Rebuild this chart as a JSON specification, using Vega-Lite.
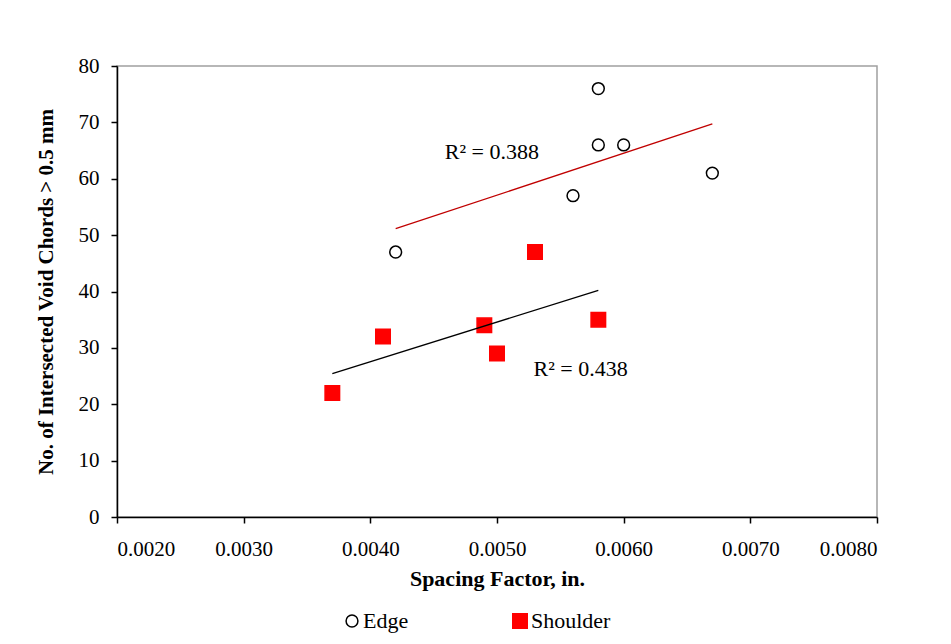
{
  "$schema": "https://vega.github.io/schema/vega-lite/v6.json",
  "width": 760,
  "height": 451,
  "autosize": {"type": "none"},
  "padding": {"left": 117, "top": 66, "right": 74, "bottom": 127},
  "background": "white",
  "datasets": {
    "points": [
      {"series": "Edge", "x": 0.0042, "y": 47},
      {"series": "Edge", "x": 0.0056, "y": 57},
      {"series": "Edge", "x": 0.0058, "y": 76},
      {"series": "Edge", "x": 0.0058, "y": 66},
      {"series": "Edge", "x": 0.0060, "y": 66},
      {"series": "Edge", "x": 0.0067, "y": 61},
      {"series": "Shoulder", "x": 0.0037, "y": 22},
      {"series": "Shoulder", "x": 0.0041, "y": 32},
      {"series": "Shoulder", "x": 0.0049, "y": 34},
      {"series": "Shoulder", "x": 0.0050, "y": 29},
      {"series": "Shoulder", "x": 0.0053, "y": 47},
      {"series": "Shoulder", "x": 0.0058, "y": 35}
    ],
    "labels": [
      {"label": "R² = 0.388", "x": 0.00496, "y": 64.7},
      {"label": "R² = 0.438", "x": 0.00566, "y": 26.2}
    ]
  },
  "config": {
    "font": "Liberation Serif",
    "view": {"stroke": "#a0a0a0", "strokeWidth": 1.5},
    "axis": {
      "grid": false,
      "domainColor": "black",
      "domainWidth": 1.5,
      "tickColor": "black",
      "tickWidth": 1.5,
      "labelFont": "Liberation Serif",
      "labelFontSize": 21,
      "labelColor": "black",
      "titleFont": "Liberation Serif",
      "titleFontSize": 21,
      "titleFontWeight": "bold",
      "titleColor": "black"
    },
    "legend": {
      "labelFont": "Liberation Serif",
      "labelFontSize": 22,
      "labelColor": "black"
    }
  },
  "layer": [
    {
      "data": {"name": "points"},
      "mark": {"type": "point", "filled": true, "strokeWidth": 1.5, "opacity": 1},
      "encoding": {
        "x": {
          "field": "x", "type": "quantitative",
          "scale": {"domain": [0.002, 0.008], "nice": false, "zero": false},
          "axis": {
            "title": "Spacing Factor, in.",
            "titleFontSize": 22,
            "values": [0.002, 0.003, 0.004, 0.005, 0.006, 0.007, 0.008],
            "format": ".4f",
            "tickSize": 6,
            "labelPadding": 15,
            "titlePadding": 9
          }
        },
        "y": {
          "field": "y", "type": "quantitative",
          "scale": {"domain": [0, 80], "nice": false},
          "axis": {
            "title": "No. of Intersected Void Chords > 0.5 mm",
            "values": [0, 10, 20, 30, 40, 50, 60, 70, 80],
            "tickSize": 6,
            "labelPadding": 12,
            "titlePadding": 22
          }
        },
        "shape": {
          "field": "series", "type": "nominal",
          "scale": {"domain": ["Edge", "Shoulder"], "range": ["circle", "square"]},
          "legend": {
            "title": null,
            "orient": "none",
            "direction": "horizontal",
            "legendX": 224,
            "legendY": 544,
            "columnPadding": 100,
            "labelOffset": 0
          }
        },
        "fill": {
          "field": "series", "type": "nominal",
          "scale": {"domain": ["Edge", "Shoulder"], "range": ["white", "#ff0000"]},
          "legend": {"title": null}
        },
        "stroke": {
          "field": "series", "type": "nominal",
          "scale": {"domain": ["Edge", "Shoulder"], "range": ["black", "#ff0000"]},
          "legend": {"title": null}
        },
        "size": {
          "field": "series", "type": "nominal",
          "scale": {"domain": ["Edge", "Shoulder"], "range": [140, 210]},
          "legend": {"title": null}
        }
      }
    },
    {
      "data": {"name": "points"},
      "transform": [
        {"filter": "datum.series === 'Edge'"},
        {"regression": "y", "on": "x"}
      ],
      "mark": {"type": "line", "color": "#c00000", "strokeWidth": 1.3},
      "encoding": {
        "x": {"field": "x", "type": "quantitative"},
        "y": {"field": "y", "type": "quantitative"}
      }
    },
    {
      "data": {"name": "points"},
      "transform": [
        {"filter": "datum.series === 'Shoulder'"},
        {"regression": "y", "on": "x"}
      ],
      "mark": {"type": "line", "color": "black", "strokeWidth": 1.3},
      "encoding": {
        "x": {"field": "x", "type": "quantitative"},
        "y": {"field": "y", "type": "quantitative"}
      }
    },
    {
      "data": {"name": "labels"},
      "mark": {"type": "text", "font": "Liberation Serif", "fontSize": 22, "color": "black", "align": "center", "baseline": "middle"},
      "encoding": {
        "x": {"field": "x", "type": "quantitative"},
        "y": {"field": "y", "type": "quantitative"},
        "text": {"field": "label"}
      }
    }
  ]
}
